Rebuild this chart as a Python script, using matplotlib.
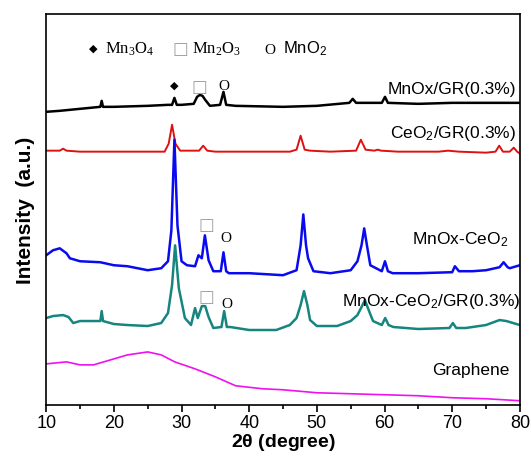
import matplotlib
matplotlib.use("Agg")
import matplotlib.pyplot as plt
from matplotlib.ticker import MultipleLocator

plt.rcParams['font.family'] = ['Liberation Sans', 'DejaVu Sans']
plt.rcParams['mathtext.default'] = 'regular'

# values (2theta in degree, intensity in arbitrary units)
mnox_gr_x = [10, 12, 15, 18, 18.2, 18.4, 20, 25, 28, 28.6, 28.95, 29.3, 30, 31.8, 32.3, 32.7,
             33.1, 33.5, 34.2, 35.7, 36.2, 36.6, 38, 45, 50, 54.8, 55.3, 55.8, 57, 59.6, 60.07,
             60.5, 65, 70, 75, 80]
mnox_gr_y = [294, 295, 297, 299, 305, 299, 299, 300, 301, 301, 308, 301, 301, 302, 309, 311,
             310, 306, 300, 301, 314, 301, 300, 299, 300, 303, 307, 303, 303, 303, 309,
             303, 302, 303, 303, 303]

ceo2_gr_x = [10, 12, 12.5, 13, 15, 20, 25, 27.5, 28.1, 28.6, 29.1, 29.8, 32.6, 33.2, 33.8, 35,
             40, 46, 47, 47.6, 48.2, 49, 52, 55.8, 56.5, 57.2, 58.5, 59, 59.5, 62, 68, 69.4,
             71, 75, 76.4, 76.95, 77.5, 78.5, 79.1, 79.6, 80]
ceo2_gr_y = [255, 255, 257, 255, 254, 254, 254, 254, 262, 281, 262, 255, 255, 260, 255, 254,
             254, 254, 256, 270, 256, 255, 254, 255, 266, 256, 255, 256, 255, 254, 254, 255,
             254, 253, 254, 260, 254, 254, 258, 254, 252]

mnox_ceo2_x = [10, 11, 12, 13, 13.5, 15, 18, 20, 22, 25, 27, 28, 28.5, 28.95, 29.4, 30, 30.8,
               32.0, 32.5, 33.0, 33.45, 34.0, 34.7, 35.8, 36.2, 36.6, 37, 40, 45, 47, 47.6,
               48.0, 48.4, 48.7, 49.5, 52, 55, 56, 56.6, 57.0, 57.4, 57.9, 59.6, 60.07, 60.5,
               61.2, 65, 70, 70.4, 71, 73, 75, 77.0, 77.6, 78.2, 78.5, 80]
mnox_ceo2_y = [150, 155, 157, 152, 147, 144, 143, 140, 139, 135, 137, 144, 175, 266, 180, 144, 140,
               139, 150, 147, 170, 145, 134, 134, 153, 134, 132, 132, 130, 135, 160,
               191, 160, 147, 134, 132, 135, 144, 160, 177, 160, 140, 134, 144, 134,
               132, 132, 133, 139, 134, 134, 135, 138, 143, 138, 137, 140]

mnox_ceo2_gr_x = [10, 11, 12.5, 13.3, 14, 15, 18, 18.2, 18.4, 20, 22, 25, 27, 28, 28.6, 29.05,
                  29.6, 30.5, 31.4, 32.0, 32.4, 33.0, 33.5, 34.0, 34.7, 35.9, 36.3, 36.7, 37.2,
                  40, 44, 46, 47, 47.6, 48.1, 48.6, 49, 50, 53, 55, 56, 56.6, 57.1, 57.6, 58.3,
                  59.6, 60.1, 60.6, 61.3, 65, 69.6, 70.1, 70.6, 72, 75, 77, 78, 80]
mnox_ceo2_gr_y = [87, 89, 90, 88, 82, 84, 84, 94, 84, 81, 80, 79, 82, 92, 120, 160,
                  117, 87, 80, 97, 87, 99, 99, 88, 77, 78, 94, 78, 78,
                  75, 75, 80, 87, 100, 114, 100, 85, 79, 79, 84, 90, 98, 105, 96, 84,
                  80, 87, 80, 78, 76, 77, 82, 77, 77, 80, 85, 84, 80]

graphene_x = [10, 13, 15, 17, 20, 22, 25, 27, 29, 32, 35, 38, 42, 45, 50, 55, 60, 65, 70, 75, 80]
graphene_y = [41, 43, 40, 40, 46, 50, 53, 50, 43, 36, 28, 19, 16, 15, 12, 11, 10, 9, 7, 6, 4]

fig = plt.figure(figsize=(5.31, 4.60), dpi=100)
ax = fig.add_axes([0.087, 0.118, 0.892, 0.849])

ax.plot(mnox_gr_x, mnox_gr_y, color='black', lw=1.8)
ax.plot(ceo2_gr_x, ceo2_gr_y, color='#e01010', lw=1.4)
ax.plot(mnox_ceo2_x, mnox_ceo2_y, color='#0a0af0', lw=1.8)
ax.plot(mnox_ceo2_gr_x, mnox_ceo2_gr_y, color='#168580', lw=1.8)
ax.plot(graphene_x, graphene_y, color='#f010f0', lw=1.2)

ax.set_xlim(10, 80)
ax.set_ylim(0, 392)
ax.xaxis.set_major_locator(MultipleLocator(10))
ax.xaxis.set_minor_locator(MultipleLocator(5))
ax.tick_params(axis='x', which='major', direction='out', length=5, width=1.2, labelsize=13,
               pad=2)
ax.tick_params(axis='x', which='minor', direction='out', length=3, width=1.2)
ax.set_yticks([])
for s in ax.spines.values():
    s.set_linewidth(1.2)

ax.set_xlabel(r'2$\theta$ (degree)', fontsize=14, fontweight='bold', labelpad=0)
ax.set_ylabel('Intensity  (a.u.)', fontsize=15, fontweight='bold', labelpad=8)

# phase legend
ax.text(16.9, 358, '\u25c6', fontsize=8, ha='center', va='center', family='DejaVu Sans')
ax.text(18.7, 358, 'Mn$_3$O$_4$', fontsize=12, ha='left', va='center', family='Liberation Serif')
ax.text(29.8, 358, '\u25a1', fontsize=12, ha='center', va='center', color='#a0a0a0',
        family='DejaVu Sans')
ax.text(31.5, 358, 'Mn$_2$O$_3$', fontsize=12, ha='left', va='center', family='Liberation Serif')
ax.text(43.1, 357, 'O', fontsize=11, ha='center', va='center', family='Liberation Serif')
ax.text(45.0, 358, 'MnO$_2$', fontsize=12, ha='left', va='center')

# phase markers above the peaks
ax.text(28.9, 321, '\u25c6', fontsize=8, ha='center', va='center', family='DejaVu Sans')
ax.text(32.7, 320, '\u25a1', fontsize=12, ha='center', va='center', color='#a0a0a0',
        family='DejaVu Sans')
ax.text(36.2, 320, 'O', fontsize=11, ha='center', va='center', family='Liberation Serif')
ax.text(33.6, 181, '\u25a1', fontsize=12, ha='center', va='center', color='#a0a0a0',
        family='DejaVu Sans')
ax.text(36.6, 168, 'O', fontsize=11, ha='center', va='center', family='Liberation Serif')
ax.text(33.6, 109, '\u25a1', fontsize=12, ha='center', va='center', color='#a0a0a0',
        family='DejaVu Sans')
ax.text(36.7, 102, 'O', fontsize=11, ha='center', va='center', family='Liberation Serif')

# sample names
ax.text(79.4, 317, 'MnOx/GR(0.3%)', fontsize=12.5, ha='right', va='center')
ax.text(79.4, 273, 'CeO$_2$/GR(0.3%)', fontsize=12.5, ha='right', va='center')
ax.text(78.2, 167, 'MnOx-CeO$_2$', fontsize=12.5, ha='right', va='center')
ax.text(80.1, 105, 'MnOx-CeO$_2$/GR(0.3%)', fontsize=12.5, ha='right', va='center')
ax.text(78.5, 35, 'Graphene', fontsize=12.5, ha='right', va='center')

fig.savefig('out.png', dpi=100)
